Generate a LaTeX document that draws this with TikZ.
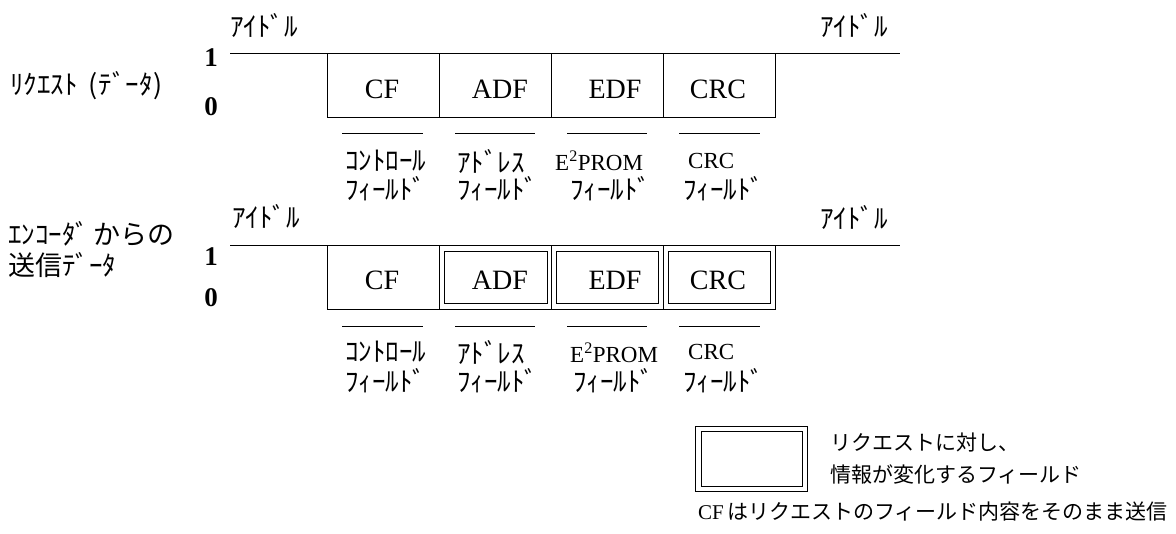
\documentclass[tikz,border=0pt]{standalone}
\usepackage{fontspec}
\setmainfont{Liberation Serif}
\newfontfamily\jp{Noto Sans CJK JP}
\begin{document}
\begin{tikzpicture}[x=1pt,y=-1pt,
  sig/.style={line width=1pt},
  jpl/.style={font=\jp\fontsize{27}{30}\selectfont, inner sep=0pt},
  lat/.style={font=\fontsize{28}{32}\selectfont, inner sep=0pt},
  lvl/.style={font=\bfseries\fontsize{27}{30}\selectfont, inner sep=0pt},
  sub/.style={font=\fontsize{23}{27}\selectfont, inner sep=0pt},
  leg/.style={font=\jp\fontsize{21}{24}\selectfont, inner sep=0pt},
  ul/.style={line width=1pt}]
\useasboundingbox (0,0) rectangle (1176,534);

% ---------- row 1 ----------
\node[jpl,anchor=west] (idle1L) at (230,25) {ｱｲﾄﾞﾙ};
\node[jpl,anchor=west] (idle1R) at (820,25) {ｱｲﾄﾞﾙ};
\node[jpl,anchor=west] (req) at (10,86) {ﾘｸｴｽﾄ\hspace{11pt}(\hspace{1pt}ﾃﾞｰﾀ\hspace{1pt})};
\node[lvl] (one1) at (211,58) {1};
\node[lvl] (zero1) at (211,107) {0};
\draw[sig] (230,54) -- (900,54);
\draw[sig] (327,54) rectangle (775,118);
\draw[sig] (439,54) -- (439,118) (551,54) -- (551,118) (663,54) -- (663,118);
\node[lat] (cf1) at (382,89) {CF};
\node[lat] (adf1) at (500,89) {ADF};
\node[lat] (edf1) at (615,89) {EDF};
\node[lat] (crc1) at (718,89) {CRC};
\draw[ul] (342,134) -- (423,134) (455,134) -- (535,134) (567,134) -- (647,134) (679,134) -- (760,134);
\node[jpl,anchor=west] (c1a) at (345,161) {ｺﾝﾄﾛｰﾙ};
\node[jpl,anchor=west] (c1b) at (345,189) {ﾌｨｰﾙﾄﾞ};
\node[jpl,anchor=west] (a1a) at (457,161) {ｱﾄﾞﾚｽ};
\node[jpl,anchor=west] (a1b) at (457,189) {ﾌｨｰﾙﾄﾞ};
\node[sub,anchor=west] (e1a) at (555,161) {E\textsuperscript{2}PROM};
\node[jpl,anchor=west] (e1b) at (570,189) {ﾌｨｰﾙﾄﾞ};
\node[sub,anchor=west] (r1a) at (688,161) {CRC};
\node[jpl,anchor=west] (r1b) at (683,189) {ﾌｨｰﾙﾄﾞ};

% ---------- row 2 ----------
\node[jpl,anchor=west] (idle2L) at (232,216) {ｱｲﾄﾞﾙ};
\node[jpl,anchor=west] (idle2R) at (820,217) {ｱｲﾄﾞﾙ};
\node[jpl,anchor=west] (enc1) at (8,234) {ｴﾝｺｰﾀﾞ\,からの};
\node[jpl,anchor=west] (enc2) at (8,265) {送信ﾃﾞｰﾀ};
\node[lvl] (one2) at (211,257) {1};
\node[lvl] (zero2) at (211,298) {0};
\draw[sig] (230,246) -- (900,246);
\draw[sig] (327,246) rectangle (775,310);
\draw[sig] (439,246) -- (439,310) (551,246) -- (551,310) (663,246) -- (663,310);
\draw[sig] (444,252) rectangle (547,304);
\draw[sig] (556,252) rectangle (658,304);
\draw[sig] (668,252) rectangle (770,304);
\node[lat] (cf2) at (382,280) {CF};
\node[lat] (adf2) at (500,280) {ADF};
\node[lat] (edf2) at (615,280) {EDF};
\node[lat] (crc2) at (718,280) {CRC};
\draw[ul] (342,327) -- (423,327) (455,327) -- (535,327) (567,327) -- (647,327) (679,327) -- (760,327);
\node[jpl,anchor=west] (c2a) at (345,352) {ｺﾝﾄﾛｰﾙ};
\node[jpl,anchor=west] (c2b) at (345,381) {ﾌｨｰﾙﾄﾞ};
\node[jpl,anchor=west] (a2a) at (457,352) {ｱﾄﾞﾚｽ};
\node[jpl,anchor=west] (a2b) at (457,381) {ﾌｨｰﾙﾄﾞ};
\node[sub,anchor=west] (e2a) at (570,353) {E\textsuperscript{2}PROM};
\node[jpl,anchor=west] (e2b) at (573,381) {ﾌｨｰﾙﾄﾞ};
\node[sub,anchor=west] (r2a) at (688,352) {CRC};
\node[jpl,anchor=west] (r2b) at (683,381) {ﾌｨｰﾙﾄﾞ};

% ---------- legend ----------
\draw[sig] (695,427) rectangle (807,492);
\draw[sig] (701,432) rectangle (802,487);
\node[leg,anchor=west] (leg1) at (830,443) {リクエストに対し、};
\node[leg,anchor=west] (leg2) at (830,474) {情報が変化するフィールド};
\node[leg,anchor=east] (note) at (1168,512) {{\rmfamily CF}\,はリクエストのフィールド内容をそのまま送信};
\end{tikzpicture}
\end{document}
